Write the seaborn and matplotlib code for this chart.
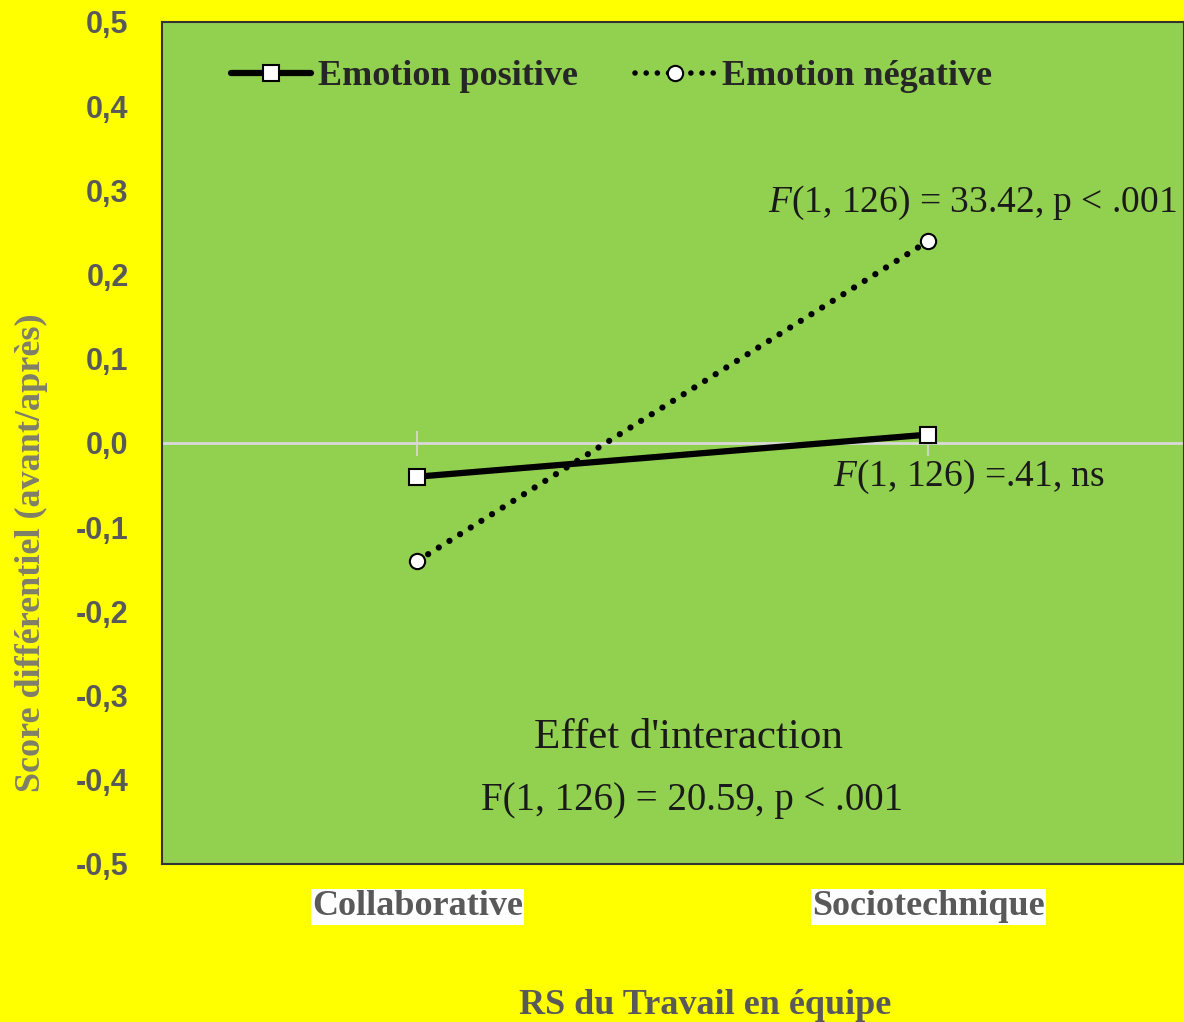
import pandas as pd
import seaborn as sns
import matplotlib.pyplot as plt

categories = ["Collaborative", "Sociotechnique"]
emotions = ["Emotion positive", "Emotion négative"]
positive_scores = [-0.04, 0.01]
negative_scores = [-0.14, 0.24]
y_ticks = [0.5, 0.4, 0.3, 0.2, 0.1, 0.0, -0.1, -0.2, -0.3, -0.4, -0.5]

df = pd.DataFrame({
    "RS": categories * 2,
    "Score": positive_scores + negative_scores,
    "Emotion": [emotions[0]] * 2 + [emotions[1]] * 2,
})

sns.set_style("white")
plt.rcParams["mathtext.fontset"] = "custom"
plt.rcParams["mathtext.it"] = "Liberation Serif:italic"
plt.rcParams["mathtext.rm"] = "Liberation Serif"

fig = plt.figure(figsize=(11.84, 10.22), dpi=100, facecolor="#ffff00")
ax = fig.add_axes([0.1368, 0.1546, 0.8632, 0.8239])
ax.set_facecolor("#92d050")

# zero line with small category ticks
zero = ax.secondary_xaxis(0.5)
for s in zero.spines.values():
    s.set_color("#d9d9d9")
    s.set_linewidth(2)
zero.set_xticks([0, 1])
zero.set_xticklabels([])
zero.tick_params(axis="x", direction="inout", length=18, width=1.2, color="#d9d9d9",
                 labeltop=False, labelbottom=False)

sns.lineplot(data=df, x="RS", y="Score", hue="Emotion", style="Emotion",
             palette=["black", "black"], markers={emotions[0]: "s", emotions[1]: "o"},
             dashes={emotions[0]: "", emotions[1]: (0.01, 2.0)},
             markersize=11, markerfacecolor="white", markeredgecolor="black",
             markeredgewidth=1.5, ax=ax, zorder=3, sort=False)
for line in ax.lines:
    line.set_dash_capstyle("round")
ax.lines[0].set_linewidth(4.5)
ax.lines[1].set_linewidth(4.5)

ax.set_xlim(-0.5, 1.5)
ax.set_ylim(-0.5, 0.5)
ax.set_yticks(y_ticks)
ax.set_yticklabels([f"{v:.1f}".replace(".", ",").replace("-0,0", "0,0") for v in y_ticks],
                   family="Liberation Sans", fontweight="bold", fontsize=22, color="#595959")
ax.set_xticks([0, 1])
ax.set_xticklabels(categories, family="Liberation Serif", fontweight="bold", fontsize=26, color="#595959")
for lab in ax.get_xticklabels():
    lab.set_bbox(dict(facecolor="white", edgecolor="none", pad=1))
ax.tick_params(axis="both", length=0)
ax.tick_params(axis="x", pad=19)
ax.tick_params(axis="y", pad=24)

for s in ["left", "top", "bottom", "right"]:
    ax.spines[s].set_color("#333333")
    ax.spines[s].set_linewidth(1.5)

ax.set_ylabel("Score différentiel (avant/après)", family="Liberation Serif", fontweight="bold",
              fontsize=26, color="#7f7f6a")
ax.yaxis.set_label_coords(-0.112, 0.37)
ax.set_xlabel("RS du Travail en équipe", family="Liberation Serif", fontweight="bold",
              fontsize=26, color="#595959")
ax.xaxis.set_label_coords(0.531, -0.148)

handles, labels = ax.get_legend_handles_labels()
leg = ax.legend(handles, labels, ncol=2, frameon=False, loc="center", bbox_to_anchor=(0.44, 0.935),
                prop={"family": "Liberation Serif", "weight": "bold", "size": 26},
                handlelength=2.2, columnspacing=1.6, handletextpad=0.2)
leg.get_lines()[0].set_linewidth(4.5)
leg.get_lines()[1].set_linewidth(4.0)
for line in leg.get_lines():
    line.set_dash_capstyle("round")

txt = dict(family="Liberation Serif", color="#1a1a1a", transform=ax.transAxes)
ax.text(0.7926, 0.785, r"$\it{F}$(1, 126) = 33.42, p < .001", ha="center", va="center", fontsize=27, **txt)
ax.text(0.657, 0.46, r"$\it{F}$(1, 126) =.41, ns", ha="left", va="center", fontsize=27, **txt)
ax.text(0.515, 0.15, "Effet d'interaction", ha="center", va="center", fontsize=31, **txt)
ax.text(0.519, 0.076, "F(1, 126) = 20.59, p < .001", ha="center", va="center", fontsize=28, **txt)

fig.savefig("out.png", dpi=100, facecolor=fig.get_facecolor())
